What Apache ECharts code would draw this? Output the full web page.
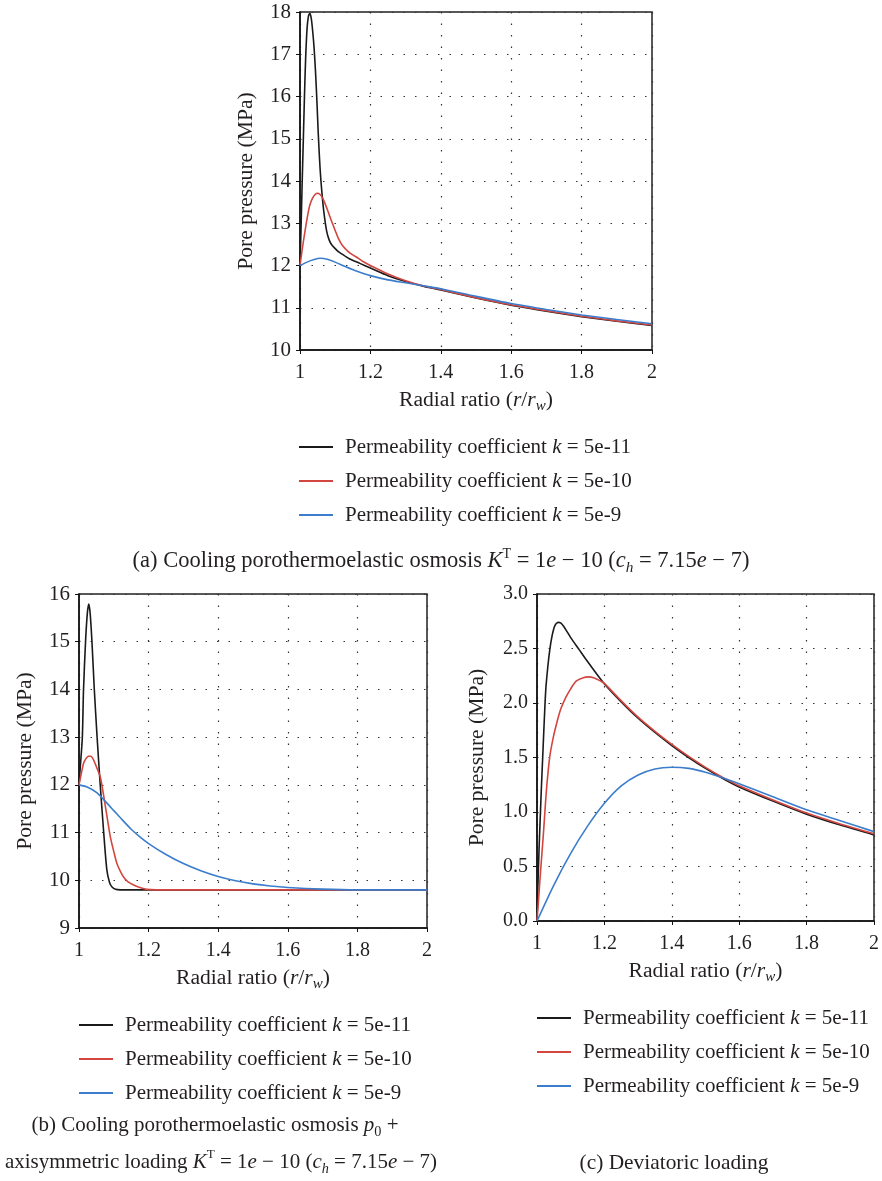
<!DOCTYPE html>
<html>
<head>
<meta charset="utf-8">
<title>Pore pressure vs radial ratio</title>
<script src="https://cdn.jsdelivr.net/npm/echarts@6/dist/echarts.min.js"></script>
<style>
  body { margin: 0; background: #fff; }
  #main { width: 882px; height: 1181px; }
</style>
</head>
<body>
<div id="main"></div>
<script>
// ---- data ----
var seriesNames = ['Permeability coefficient k = 5e-11', 'Permeability coefficient k = 5e-10', 'Permeability coefficient k = 5e-9'];

// (a) cooling porothermoelastic osmosis
var aBlackX = [1, 1.003, 1.006, 1.0095, 1.013, 1.016, 1.02, 1.024, 1.028, 1.032, 1.036, 1.04, 1.044, 1.048, 1.052, 1.057, 1.062, 1.068, 1.076, 1.083, 1.09, 1.1, 1.11, 1.125, 1.14, 1.17, 1.2, 1.25, 1.3, 1.35, 1.4, 1.5, 1.6, 1.7, 1.8, 1.9, 2.0];
var aBlackY = [12, 12.9, 13.9, 15.0, 16.1, 16.9, 17.6, 17.9, 17.97, 17.85, 17.55, 17.15, 16.6, 15.9, 15.1, 14.3, 13.75, 13.25, 12.8, 12.6, 12.49, 12.4, 12.32, 12.24, 12.16, 12.05, 11.94, 11.76, 11.62, 11.51, 11.42, 11.23, 11.06, 10.92, 10.79, 10.68, 10.58];
var aRedX = [1, 1.007, 1.014, 1.021, 1.028, 1.036, 1.043, 1.05, 1.057, 1.064, 1.071, 1.08, 1.09, 1.1, 1.109, 1.12, 1.137, 1.15, 1.166, 1.18, 1.2, 1.25, 1.3, 1.35, 1.4, 1.5, 1.6, 1.7, 1.8, 1.9, 2.0];
var aRedY = [12, 12.42, 12.8, 13.15, 13.43, 13.6, 13.68, 13.71, 13.68, 13.6, 13.47, 13.27, 13.04, 12.83, 12.64, 12.48, 12.33, 12.25, 12.17, 12.09, 12.0, 11.8, 11.64, 11.52, 11.43, 11.24, 11.07, 10.93, 10.8, 10.69, 10.59];
var aBlueX = [1, 1.02, 1.04, 1.057, 1.08, 1.1, 1.13, 1.16, 1.2, 1.25, 1.3, 1.35, 1.4, 1.5, 1.6, 1.7, 1.8, 1.9, 2.0];
var aBlueY = [12, 12.08, 12.14, 12.17, 12.14, 12.08, 11.97, 11.87, 11.76, 11.66, 11.59, 11.52, 11.45, 11.27, 11.1, 10.96, 10.83, 10.72, 10.62];

// (b) osmosis p0 + axisymmetric loading
var bBlackX = [1, 1.004, 1.0096, 1.013, 1.019, 1.024, 1.028, 1.032, 1.037, 1.044, 1.052, 1.061, 1.071, 1.08, 1.088, 1.095, 1.105, 1.119, 1.14, 2.0];
var bBlackY = [12, 12.4, 13.0, 14.0, 15.03, 15.6, 15.79, 15.6, 15.03, 14.0, 13.0, 12.0, 11.0, 10.22, 9.95, 9.86, 9.81, 9.8, 9.8, 9.8];
var bRedX = [1, 1.007, 1.013, 1.02, 1.027, 1.034, 1.042, 1.05, 1.061, 1.068, 1.076, 1.083, 1.09, 1.1, 1.109, 1.12, 1.128, 1.14, 1.157, 1.175, 1.195, 1.22, 1.26, 2.0];
var bRedY = [12, 12.25, 12.45, 12.55, 12.6, 12.6, 12.52, 12.38, 12.17, 11.9, 11.54, 11.22, 10.91, 10.6, 10.35, 10.17, 10.07, 9.97, 9.9, 9.85, 9.81, 9.8, 9.8, 9.8];
var bBlueX = [1, 1.025, 1.05, 1.075, 1.1, 1.125, 1.15, 1.175, 1.2, 1.25, 1.3, 1.35, 1.4, 1.45, 1.5, 1.55, 1.6, 1.7, 1.8, 2.0];
var bBlueY = [12, 11.95, 11.84, 11.66, 11.46, 11.26, 11.07, 10.91, 10.77, 10.54, 10.35, 10.2, 10.08, 9.99, 9.925, 9.88, 9.85, 9.815, 9.8, 9.8];

// (c) deviatoric loading
var cBlackX = [1, 1.003, 1.006, 1.009, 1.013, 1.017, 1.021, 1.026, 1.032, 1.038, 1.045, 1.053, 1.0625, 1.07, 1.08, 1.09, 1.1, 1.125, 1.15, 1.175, 1.2, 1.25, 1.3, 1.35, 1.4, 1.45, 1.5, 1.55, 1.6, 1.7, 1.8, 1.9, 2.0];
var cBlackY = [0, 0.35, 0.65, 0.9, 1.22, 1.51, 1.8, 2.12, 2.33, 2.49, 2.62, 2.71, 2.74, 2.735, 2.7, 2.65, 2.6, 2.49, 2.38, 2.275, 2.175, 2.01, 1.86, 1.73, 1.61, 1.5, 1.4, 1.31, 1.23, 1.1, 0.98, 0.88, 0.79];
var cRedX = [1, 1.01, 1.019, 1.028, 1.038, 1.048, 1.058, 1.07, 1.087, 1.1, 1.116, 1.135, 1.153, 1.17, 1.19, 1.2, 1.25, 1.3, 1.35, 1.4, 1.45, 1.5, 1.55, 1.6, 1.7, 1.8, 1.9, 2.0];
var cRedY = [0, 0.43, 0.8, 1.2, 1.51, 1.68, 1.81, 1.94, 2.06, 2.13, 2.2, 2.23, 2.24, 2.23, 2.2, 2.18, 2.02, 1.87, 1.74, 1.62, 1.51, 1.41, 1.32, 1.24, 1.11, 0.99, 0.89, 0.8];
var cBlueX = [1, 1.05, 1.1, 1.15, 1.2, 1.25, 1.3, 1.35, 1.4, 1.45, 1.5, 1.55, 1.6, 1.7, 1.8, 1.9, 2.0];
var cBlueY = [0, 0.33, 0.62, 0.87, 1.08, 1.24, 1.34, 1.395, 1.41, 1.4, 1.365, 1.315, 1.26, 1.14, 1.02, 0.92, 0.82];

var colors = ['#1a1a1a', '#d2463f', '#3b7dcc'];
var serif = "'Liberation Serif', 'DejaVu Serif', serif";
var ink = '#231f20';

function zip(xs, ys) {
  return xs.map(function (x, i) { return [x, ys[i]]; });
}

var chart = echarts.init(document.getElementById('main'));

var grids = [
  { left: 300, top: 12, width: 352, height: 338 },
  { left: 79, top: 594, width: 348, height: 334 },
  { left: 537, top: 594, width: 341, height: 327 }
];
grids.forEach(function (g) {
  g.show = true; g.borderColor = '#222'; g.borderWidth = 1.5; g.backgroundColor = 'transparent';
});

var yRanges = [[10, 18, 1], [9, 16, 1], [0, 3, 0.5]];
var yNameGaps = [43, 43, 49];
var yLabelSizes = [21, 21, 20];
var nameSize = 21.6;

var gridLine = { show: true, lineStyle: { color: '#333', width: 1.2, type: [1.5, 10] } };

var xAxes = grids.map(function (g, i) {
  return {
    gridIndex: i, type: 'value', min: 1, max: 2, interval: 0.2,
    name: 'Radial ratio ({i|r}/{i|r}{sub|w})', nameLocation: 'middle', nameGap: 36,
    nameTextStyle: {
      fontFamily: serif, fontSize: nameSize, color: ink, lineHeight: 28,
      rich: {
        i: { fontFamily: serif, fontSize: nameSize, fontStyle: 'italic', color: ink, lineHeight: 28 },
        sub: { fontFamily: serif, fontSize: 15, fontStyle: 'italic', color: ink, verticalAlign: 'bottom', lineHeight: 10 }
      }
    },
    axisLine: { lineStyle: { color: '#111', width: 1.5 } },
    axisTick: { show: true, inside: false, length: 4, lineStyle: { color: '#111' } },
    axisLabel: { fontFamily: serif, fontSize: 20, color: ink, margin: 13 },
    splitLine: gridLine
  };
});

var yAxes = grids.map(function (g, i) {
  var r = yRanges[i];
  return {
    gridIndex: i, type: 'value', min: r[0], max: r[1], interval: r[2],
    name: 'Pore pressure (MPa)', nameLocation: 'middle', nameGap: yNameGaps[i],
    nameTextStyle: { fontFamily: serif, fontSize: nameSize, color: ink },
    axisLine: { show: true, lineStyle: { color: '#111', width: 1.5 } },
    axisTick: { show: true, inside: false, length: 4, lineStyle: { color: '#111' } },
    axisLabel: {
      fontFamily: serif, fontSize: yLabelSizes[i], color: ink, margin: 9,
      formatter: function (v) { return i === 2 ? v.toFixed(1) : String(v); }
    },
    splitLine: gridLine
  };
});

var curves = [
  [zip(aBlackX, aBlackY), zip(aRedX, aRedY), zip(aBlueX, aBlueY)],
  [zip(bBlackX, bBlackY), zip(bRedX, bRedY), zip(bBlueX, bBlueY)],
  [zip(cBlackX, cBlackY), zip(cRedX, cRedY), zip(cBlueX, cBlueY)]
];

var series = [];
curves.forEach(function (set, gi) {
  set.forEach(function (data, si) {
    series.push({
      type: 'line', name: seriesNames[si], xAxisIndex: gi, yAxisIndex: gi,
      data: data, showSymbol: false, smooth: 0.25,
      lineStyle: { color: colors[si], width: 1.6 },
      itemStyle: { color: colors[si] }
    });
  });
});

function legendAt(left, top) {
  return {
    orient: 'vertical', left: left, top: top, padding: 0,
    itemWidth: 34, itemHeight: 2, itemGap: 10,
    icon: 'rect', selectedMode: false,
    data: seriesNames,
    formatter: function (n) { return n.replace(' k ', ' {i|k} '); },
    textStyle: {
      fontFamily: serif, fontSize: 21, color: ink, lineHeight: 24, padding: [0, 0, 0, 7],
      rich: { i: { fontFamily: serif, fontSize: 21, fontStyle: 'italic', color: ink, lineHeight: 24 } }
    }
  };
}

function caption(x, y, size, text) {
  return {
    type: 'text', x: x, y: y,
    style: {
      text: text, fill: ink, fontFamily: serif, fontSize: size, lineHeight: 28,
      textAlign: 'center', textVerticalAlign: 'middle',
      rich: {
        i: { fontFamily: serif, fontSize: size, fontStyle: 'italic', fill: ink },
        sup: { fontFamily: serif, fontSize: size * 0.62, fill: ink, verticalAlign: 'top', lineHeight: 12 },
        sub: { fontFamily: serif, fontSize: size * 0.68, fontStyle: 'italic', fill: ink, verticalAlign: 'bottom', lineHeight: 10 },
        s0: { fontFamily: serif, fontSize: size * 0.68, fill: ink, verticalAlign: 'bottom', lineHeight: 10 }
      }
    }
  };
}

chart.setOption({
  animation: false,
  grid: grids,
  xAxis: xAxes,
  yAxis: yAxes,
  series: series,
  legend: [legendAt(299, 435), legendAt(79, 1013), legendAt(537, 1006)],
  graphic: [
    caption(441, 561, 22.5, '(a) Cooling porothermoelastic osmosis {i|K}{sup|T} = 1{i|e} \u2212 10 ({i|c}{sub|h} = 7.15{i|e} \u2212 7)'),
    caption(215, 1125, 21, '(b) Cooling porothermoelastic osmosis {i|p}{s0|0} +'),
    caption(221, 1162, 21, 'axisymmetric loading {i|K}{sup|T} = 1{i|e} \u2212 10 ({i|c}{sub|h} = 7.15{i|e} \u2212 7)'),
    caption(674, 1163, 21.4, '(c) Deviatoric loading')
  ]
});
</script>
</body>
</html>
